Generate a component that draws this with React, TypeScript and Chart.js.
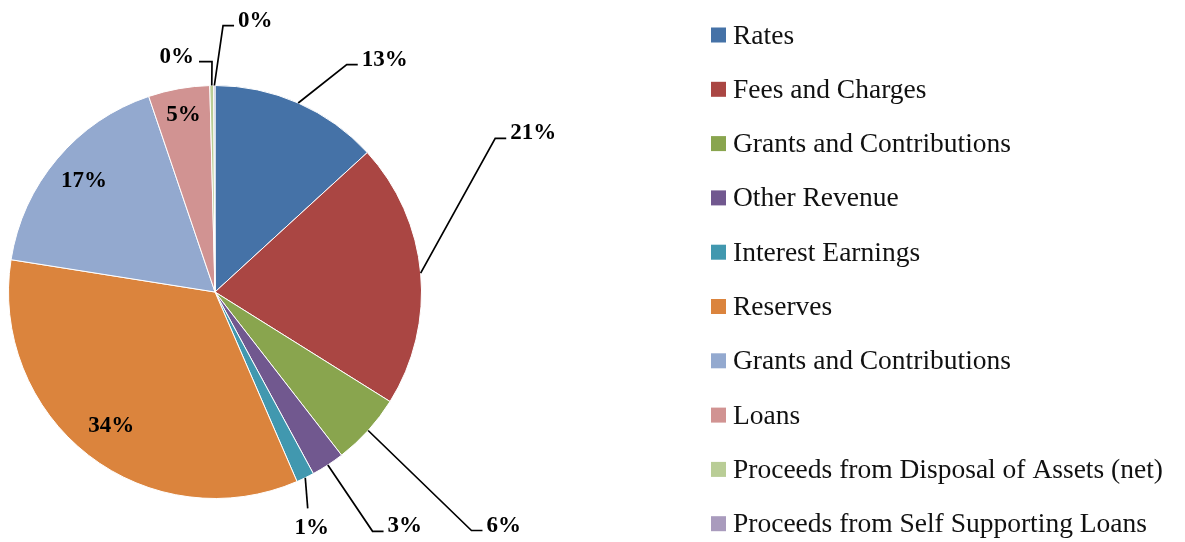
import React, { useEffect, useRef } from "react";
import { Chart, registerables } from "chart.js";

Chart.register(...registerables);

const categories = [
  "Rates",
  "Fees and Charges",
  "Grants and Contributions",
  "Other Revenue",
  "Interest Earnings",
  "Reserves",
  "Grants and Contributions",
  "Loans",
  "Proceeds from Disposal of Assets (net)",
  "Proceeds from Self Supporting Loans",
];

const shares = [13.2, 20.7, 5.6, 2.6, 1.4, 34.0, 17.3, 4.8, 0.3, 0.1];

const colors = [
  "#4572A7",
  "#AA4643",
  "#89A54E",
  "#71588F",
  "#4198AF",
  "#DB843D",
  "#93A9CF",
  "#D19392",
  "#B9CD96",
  "#A99BBD",
];

// label placement (style): inside at radius factor, or outside with elbow point in radius units
const labelLayout: any[] = [
  { kind: "out", ex: 0.638, ey: -1.101, dir: "right" },
  { kind: "out", ex: 1.357, ey: -0.744, dir: "right" },
  { kind: "out", ex: 1.242, ey: 1.155, dir: "right" },
  { kind: "out", ex: 0.763, ey: 1.159, dir: "right" },
  { kind: "out", ex: 0.449, ey: 1.048, dir: "down" },
  { kind: "in", r: 0.82 },
  { kind: "in", r: 0.83 },
  { kind: "in", r: 0.87 },
  { kind: "out", ex: -0.0145, ey: -1.116, dir: "left" },
  { kind: "out", ex: 0.039, ey: -1.29, dir: "right" },
];

const SERIF = '"Liberation Serif", "Times New Roman", serif';

const labelPlugin = {
  id: "pieLabels",
  afterDraw(chart: any) {
    const ctx = chart.ctx;
    const meta = chart.getDatasetMeta(0);
    const data = chart.data.datasets[0].data as number[];
    const total = data.reduce((a, b) => a + b, 0);
    ctx.save();
    ctx.font = `bold 23px ${SERIF}`;
    ctx.fillStyle = "#000";
    ctx.strokeStyle = "#000";
    ctx.lineWidth = 1.7;
    meta.data.forEach((arc: any, i: number) => {
      const p = arc.getProps(["x", "y", "startAngle", "endAngle", "outerRadius"], true);
      const mid = (p.startAngle + p.endAngle) / 2;
      const R = p.outerRadius;
      const txt = Math.round((data[i] / total) * 100) + "%";
      const lay = labelLayout[i];
      if (lay.kind === "in") {
        ctx.textAlign = "center";
        ctx.textBaseline = "middle";
        ctx.fillText(txt, p.x + Math.cos(mid) * R * lay.r, p.y + Math.sin(mid) * R * lay.r);
        return;
      }
      const sx = p.x + Math.cos(mid) * R;
      const sy = p.y + Math.sin(mid) * R;
      const ex = p.x + lay.ex * R;
      const ey = p.y + lay.ey * R;
      ctx.beginPath();
      ctx.moveTo(sx, sy);
      ctx.lineTo(ex, ey);
      ctx.textBaseline = "alphabetic";
      if (lay.dir === "right") {
        ctx.lineTo(ex + 11, ey);
        ctx.stroke();
        ctx.textAlign = "left";
        ctx.fillText(txt, ex + 15, ey + 1);
      } else if (lay.dir === "left") {
        ctx.lineTo(ex - 13, ey);
        ctx.stroke();
        ctx.textAlign = "right";
        ctx.fillText(txt, ex - 18, ey + 1);
      } else {
        ctx.stroke();
        ctx.textAlign = "center";
        ctx.fillText(txt, ex + 4, ey + 26);
      }
    });
    ctx.restore();
  },
};

const legendPlugin = {
  id: "sideLegend",
  afterDraw(chart: any) {
    const ctx = chart.ctx;
    const labels = chart.data.labels as string[];
    const bg = chart.data.datasets[0].backgroundColor as string[];
    ctx.save();
    ctx.font = `27.5px ${SERIF}`;
    ctx.textAlign = "left";
    ctx.textBaseline = "alphabetic";
    labels.forEach((lab, i) => {
      const top = 27.5 + i * 54.3;
      ctx.fillStyle = bg[i];
      ctx.fillRect(711, top, 15, 15);
      ctx.fillStyle = "#111";
      ctx.fillText(lab, 733, top + 16);
    });
    ctx.restore();
  },
};

export default function App() {
  const ref = useRef<HTMLCanvasElement>(null);
  useEffect(() => {
    if (!ref.current) return;
    const chart = new Chart(ref.current, {
      type: "pie",
      data: {
        labels: categories,
        datasets: [
          {
            data: shares,
            backgroundColor: colors,
            borderColor: "#ffffff",
            borderWidth: 1,
          },
        ],
      },
      options: {
        responsive: false,
        animation: false,
        layout: { padding: { left: 8, top: 85, right: 763, bottom: 43 } },
        plugins: {
          legend: { display: false },
          tooltip: { enabled: false },
        },
      },
      plugins: [labelPlugin, legendPlugin],
    });
    return () => chart.destroy();
  }, []);
  return (
    <div style={{ position: "fixed", left: 0, top: 0, width: 1185, height: 542, background: "#fff" }}>
      <canvas ref={ref} width={1185} height={542} style={{ display: "block" }} />
    </div>
  );
}
